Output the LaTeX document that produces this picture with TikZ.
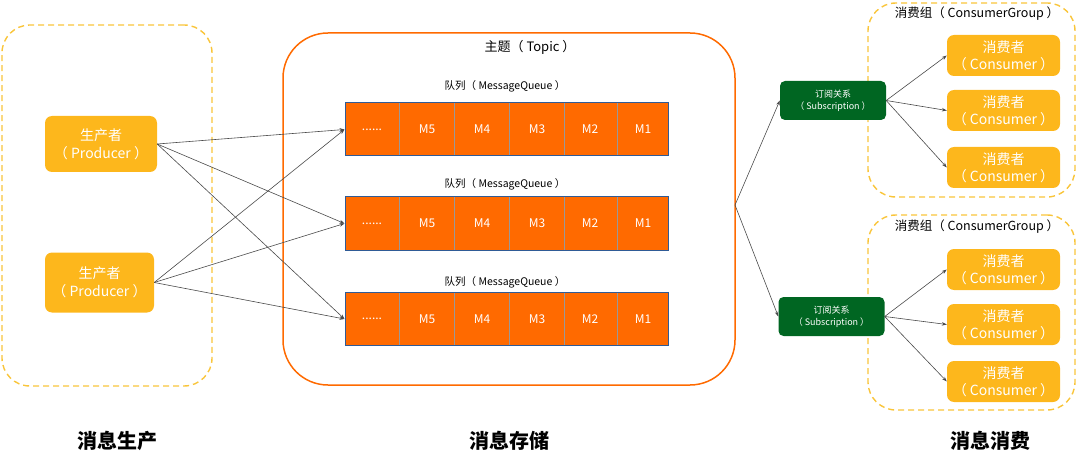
\documentclass[tikz,border=0pt]{standalone}
\usepackage{fontspec}
\setmainfont{Noto Sans CJK SC}
\usetikzlibrary{arrows.meta}

\definecolor{roleyellow}{HTML}{FDB71C}
\definecolor{groupyellow}{HTML}{F9C53A}
\definecolor{topicorange}{HTML}{FF6A00}
\definecolor{queueblue}{HTML}{2F5B96}
\definecolor{subgreen}{HTML}{006622}
\definecolor{arrowgray}{HTML}{4A4A4A}

\begin{document}
\begin{tikzpicture}[x=1pt, y=-1pt,
         arrow/.style={-{Stealth[length=5pt,width=3.5pt]}, draw=arrowgray, line width=0.6pt},
         role/.style={fill=roleyellow, rounded corners=7pt, text=white, align=center,
                      font=\fontsize{14}{18}\selectfont, inner sep=0pt},
         group/.style={draw=groupyellow, line width=1.4pt, dash pattern=on 6pt off 4pt,
                       rounded corners=28pt, inner sep=0pt},
         queue/.style={fill=topicorange, draw=queueblue, line width=1pt,
                       minimum width=323pt, minimum height=53pt, inner sep=0pt},
         cell/.style={text=white, font=\fontsize{12}{14}\selectfont},
         cellline/.style={draw=gray!80, line width=0.6pt},
         qtitle/.style={font=\fontsize{10.5}{12}\selectfont},
         sub/.style={fill=subgreen, rounded corners=5pt, text=white, align=center,
                     font=\fontsize{9}{12}\selectfont, inner sep=0pt,
                     minimum width=106pt, minimum height=39pt},
         stage/.style={font=\fontsize{20}{22}\selectfont\bfseries}
      ]
   \useasboundingbox (0,0) rectangle (1080,468);

   % production side
   \node[group, minimum width=210pt, minimum height=361pt] (prodarea) at (107,205.5) {};
   \node[role, minimum width=112pt, minimum height=56pt] (p1) at (101,144) {生产者\\（ Producer ）};
   \node[role, minimum width=109pt, minimum height=60pt] (p2) at (99.5,282.5) {生产者\\（ Producer ）};

   % topic with its queues
   \node[draw=topicorange, line width=1.5pt, rounded corners=45pt,
         minimum width=452pt, minimum height=352pt, inner sep=0pt] (topic) at (509,209) {};
   \node[font=\fontsize{13}{15}\selectfont] (topicname) at (530,47) {主题（ Topic ）};
   \coordinate (topicout) at (735,205);

   \foreach \q/\y/\ty in {q1/129.5/86, q2/223.5/184, q3/319/282} {
      \node[qtitle] (\q-t) at (505,\ty) {队列（ MessageQueue ）};
      \node[queue] (\q) at (506.5,\y) {};
      \foreach \xa in {399,454,509,564,617}
         \draw[cellline] (\xa,\y-26) -- (\xa,\y+26);
      \foreach \xc/\lab/\nm in {372/{......}/m6, 427/M5/m5, 482/M4/m4, 537/M3/m3, 590/M2/m2, 643/M1/m1}
         \node[cell] (\q-\nm) at (\xc,\y) {\lab};
   }

   % consumption side
   \node[group, minimum width=207pt, minimum height=194pt] (grp1) at (971.5,100) {};
   \node[group, minimum width=207pt, minimum height=195pt] (grp2) at (971.5,312.5) {};
   \node[font=\fontsize{12.5}{14}\selectfont] (grp1t) at (977,14) {消费组（ ConsumerGroup ）};
   \node[font=\fontsize{12.5}{14}\selectfont] (grp2t) at (977,227) {消费组（ ConsumerGroup ）};

   \node[sub] (s1) at (833,100.5) {订阅关系\\（ Subscription ）};
   \node[sub] (s2) at (831.5,316.5) {订阅关系\\（ Subscription ）};

   \foreach \c/\y in {c1/55.5, c2/110.5, c3/167.5, c4/269.5, c5/324.5, c6/381.5}
      \node[role, minimum width=113pt, minimum height=41pt, font=\fontsize{14}{17}\selectfont]
         (\c) at (1003.5,\y) {消费者\\（ Consumer ）};

   % stage names
   \node[stage] (stage1) at (117,441) {消息生产};
   \node[stage] (stage2) at (509,441) {消息存储};
   \node[stage] (stage3) at (990,441) {消息消费};

   \begin{scope}[arrow]
      \draw (p1.east) -- (q1.west);
      \draw (p1.east) -- (q2.west);
      \draw (p1.east) -- (q3.west);
      \draw (p2.east) -- (q1.west);
      \draw (p2.east) -- (q2.west);
      \draw (p2.east) -- (q3.west);
      \draw (topicout) -- (s1.west);
      \draw (topicout) -- (s2.west);
      \draw (s1.east) -- (c1.west);
      \draw (s1.east) -- (c2.west);
      \draw (s1.east) -- (c3.west);
      \draw (s2.east) -- (c4.west);
      \draw (s2.east) -- (c5.west);
      \draw (s2.east) -- (c6.west);
   \end{scope}
\end{tikzpicture}
\end{document}
